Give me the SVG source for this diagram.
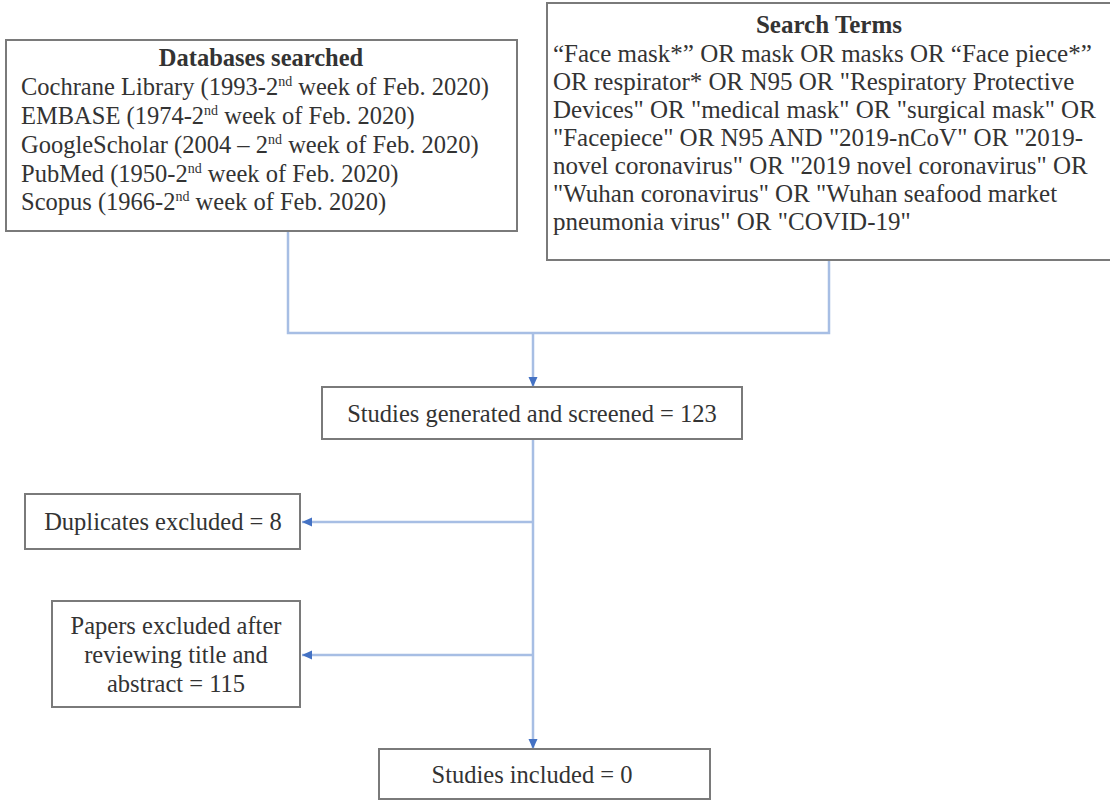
<svg xmlns="http://www.w3.org/2000/svg" width="1110" height="801" viewBox="0 0 1110 801">
<defs>
<style>
.box{fill:#fff;stroke:#7a7a7a;stroke-width:2}
.t{font-family:"Liberation Serif","Times New Roman",serif;fill:#333;font-size:24.5px}
.q{font-size:25px}
.b{font-weight:bold}
.c{text-anchor:middle}
.s{font-size:14px}
.con{fill:none;stroke:#a7bee4;stroke-width:2.5}
</style>
<marker id="ah" viewBox="0 0 10 10" refX="10" refY="5" markerWidth="10" markerHeight="10" markerUnits="userSpaceOnUse" orient="auto">
<path d="M0,0.5 L10,5 L0,9.5 z" fill="#4472c4"/>
</marker>
</defs>
<rect width="1110" height="801" fill="#fff"/>
<g id="connectors">
<polyline class="con" points="288,231 288,333 829,333 829,260"/>
<line class="con" x1="533" y1="333" x2="533" y2="387" marker-end="url(#ah)"/>
<line class="con" x1="533" y1="439" x2="533" y2="749" marker-end="url(#ah)"/>
<line class="con" x1="533" y1="522" x2="302" y2="522" marker-end="url(#ah)"/>
<line class="con" x1="533" y1="655" x2="302" y2="655" marker-end="url(#ah)"/>
</g>
<g id="databases">
<rect class="box" x="6" y="40" width="511" height="191"/>
<text class="t b c" x="261" y="66">Databases searched</text>
<text class="t" x="21" y="95">Cochrane Library (1993-2<tspan class="s" dy="-9">nd</tspan><tspan dy="9"> week of Feb. 2020)</tspan></text>
<text class="t" x="21" y="124">EMBASE (1974-2<tspan class="s" dy="-9">nd</tspan><tspan dy="9"> week of Feb. 2020)</tspan></text>
<text class="t" x="21" y="153">GoogleScholar (2004 – 2<tspan class="s" dy="-9">nd</tspan><tspan dy="9"> week of Feb. 2020)</tspan></text>
<text class="t" x="21" y="182">PubMed (1950-2<tspan class="s" dy="-9">nd</tspan><tspan dy="9"> week of Feb. 2020)</tspan></text>
<text class="t" x="21" y="210">Scopus (1966-2<tspan class="s" dy="-9">nd</tspan><tspan dy="9"> week of Feb. 2020)</tspan></text>
</g>
<g id="search-terms">
<rect class="box" x="547" y="3" width="570" height="257"/>
<text class="t q b c" x="829" y="33">Search Terms</text>
<text class="t q" x="553" y="62">“Face mask*” OR mask OR masks OR “Face piece*”</text>
<text class="t q" x="553" y="90">OR respirator* OR N95 OR "Respiratory Protective</text>
<text class="t q" x="553" y="118">Devices" OR "medical mask" OR "surgical mask" OR</text>
<text class="t q" x="553" y="146">"Facepiece" OR N95 AND "2019-nCoV" OR "2019-</text>
<text class="t q" x="553" y="174">novel coronavirus" OR "2019 novel coronavirus" OR</text>
<text class="t q" x="553" y="202">"Wuhan coronavirus" OR "Wuhan seafood market</text>
<text class="t q" x="553" y="230">pneumonia virus" OR "COVID-19"</text>
</g>
<g id="screened">
<rect class="box" x="322" y="387" width="420" height="52"/>
<text class="t c" x="532" y="422">Studies generated and screened = 123</text>
</g>
<g id="duplicates">
<rect class="box" x="25" y="494" width="275" height="55"/>
<text class="t c" x="163" y="530">Duplicates excluded = 8</text>
</g>
<g id="papers">
<rect class="box" x="52" y="601" width="248" height="106"/>
<text class="t c" x="176" y="634">Papers excluded after</text>
<text class="t c" x="176" y="663">reviewing title and</text>
<text class="t c" x="176" y="692">abstract = 115</text>
</g>
<g id="included">
<rect class="box" x="379" y="749" width="331" height="50"/>
<text class="t c" x="532" y="783">Studies included = 0</text>
</g>
</svg>
